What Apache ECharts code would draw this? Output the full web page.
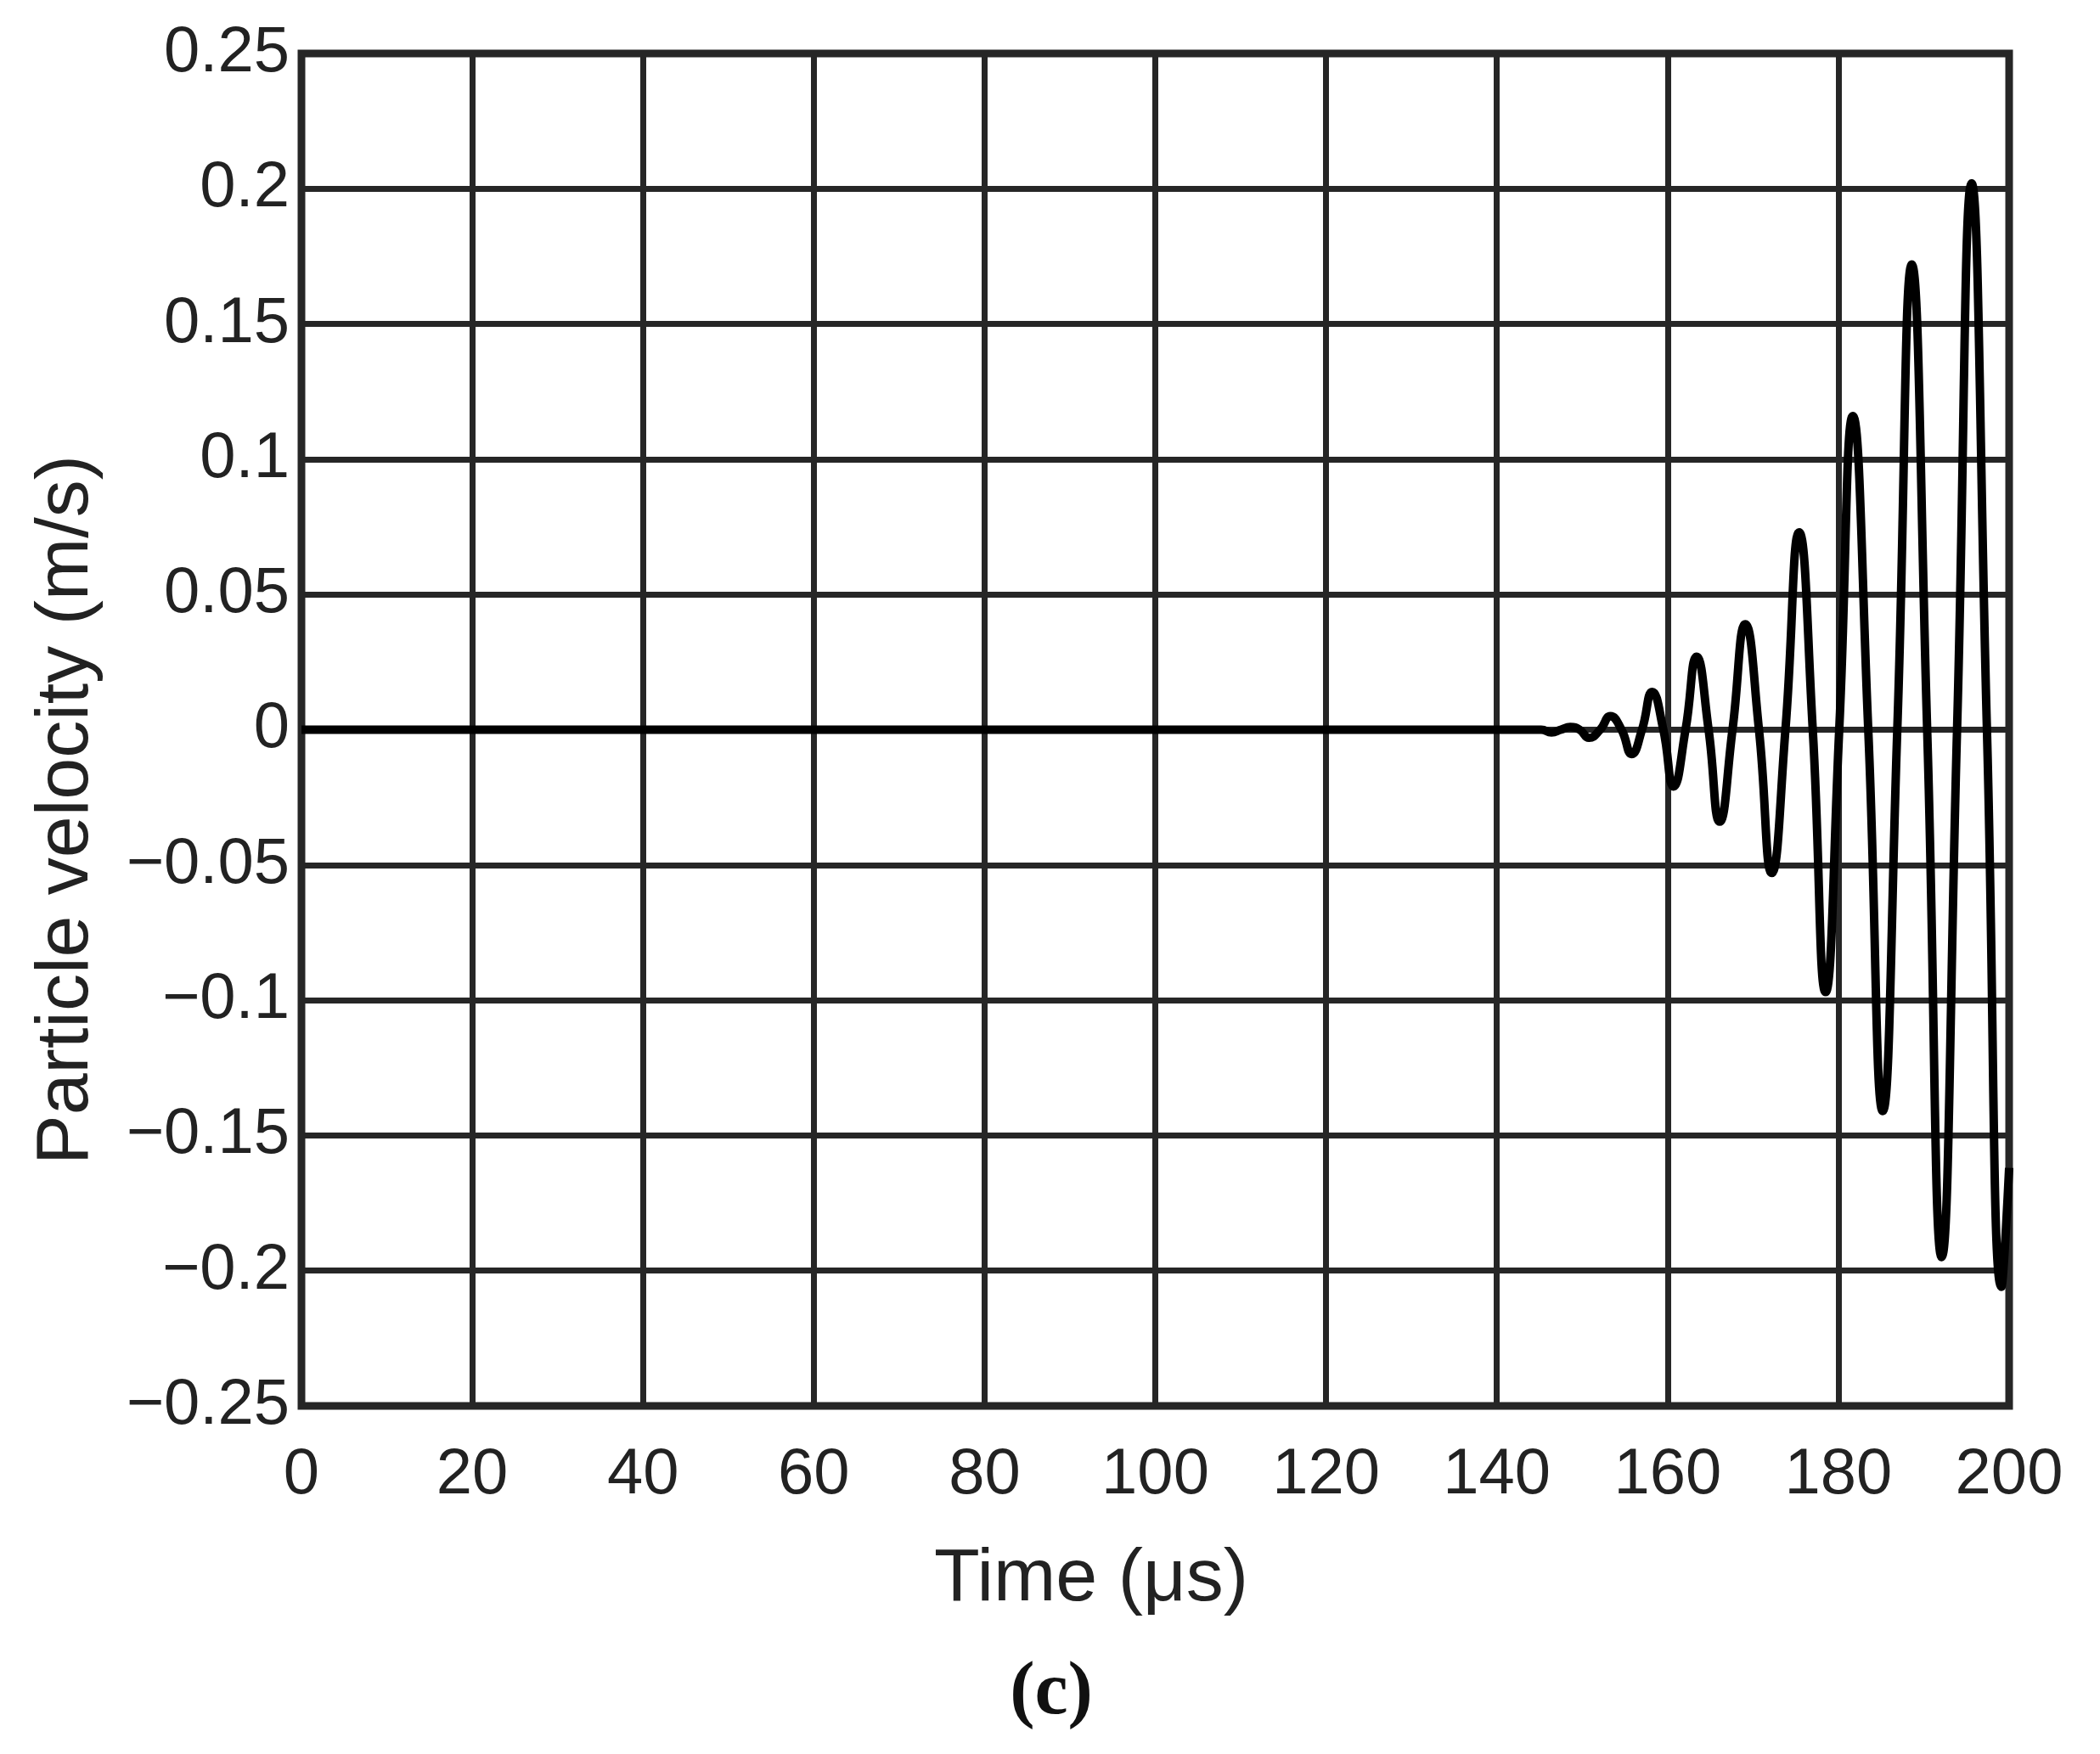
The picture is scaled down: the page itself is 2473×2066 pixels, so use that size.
<!DOCTYPE html>
<html><head><meta charset="utf-8">
<script src="https://cdn.jsdelivr.net/npm/echarts@6/dist/echarts.min.js"></script>
<style>html,body{margin:0;background:#fff}#c{width:2473px;height:2066px}</style>
</head><body><div id="c"></div>
<script>
const timeUs = [0,140,143.9,145.2,146.4,147.5,148.6,149.7,150.8,152.1,153.3,154.6,155.8,157.0,158.2,159.5,160.7,162.1,163.4,164.8,166.1,167.6,169.1,170.7,172.2,173.8,175.4,177.0,178.5,180.1,181.7,183.5,185.2,186.9,188.6,190.4,192.1,193.9,195.6,197.4,199.1,200];
const velocity = [0,0,0,0,-0.001,0,0.001,0,-0.003,0,0.005,0,-0.009,0,0.014,0,-0.021,0,0.027,0,-0.034,0,0.039,0,-0.053,0,0.073,0,-0.097,0,0.116,0,-0.141,0,0.172,0,-0.195,0,0.202,0,-0.206,-0.162];
const xTicks = [0,20,40,60,80,100,120,140,160,180,200];
const yTicks = [-0.25,-0.2,-0.15,-0.1,-0.05,0,0.05,0.1,0.15,0.2,0.25];
const xTitle = 'Time (μs)';
const yTitle = 'Particle velocity (m/s)';
const data = timeUs.map((t,i)=>[t,velocity[i]]);
const chart = echarts.init(document.getElementById('c'));
const lineC = '#262626';
const fnt = '"Liberation Sans", Arial, sans-serif';
chart.setOption({
  animation:false,
  grid:{left:355,right:107,top:63,bottom:410,show:true,borderColor:lineC,borderWidth:9},
  xAxis:{type:'value',min:0,max:200,interval:20,
    axisLine:{show:false},axisTick:{show:false},
    axisLabel:{fontFamily:fnt,fontSize:76,color:'#222',margin:44},
    splitLine:{lineStyle:{color:lineC,width:7}}},
  yAxis:{type:'value',min:-0.25,max:0.25,interval:0.05,
    axisLine:{show:false},axisTick:{show:false},
    axisLabel:{fontFamily:fnt,fontSize:76,color:'#222',margin:14,
      formatter:v=>{const r=Math.round(v*100)/100; return r<0?'−'+String(-r):String(r);}},
    splitLine:{lineStyle:{color:lineC,width:7}}},
  graphic:[
    {type:'text',x:1285,y:1861,style:{text:xTitle,font:'88px "Liberation Sans", Arial, sans-serif',fill:'#222',align:'center',verticalAlign:'middle'}},
    {type:'text',x:79,y:954,rotation:Math.PI/2,style:{text:yTitle,font:'88px "Liberation Sans", Arial, sans-serif',fill:'#222',align:'center',verticalAlign:'middle'}},
    {type:'text',x:1238,y:1995,style:{text:'(c)',font:'bold 88px "Liberation Serif", serif',fill:'#111',align:'center',verticalAlign:'middle'}}
  ],
  series:[{type:'line',data:data,smooth:0.5,symbol:'none',lineStyle:{color:'#000',width:10}}]
});
</script></body></html>
